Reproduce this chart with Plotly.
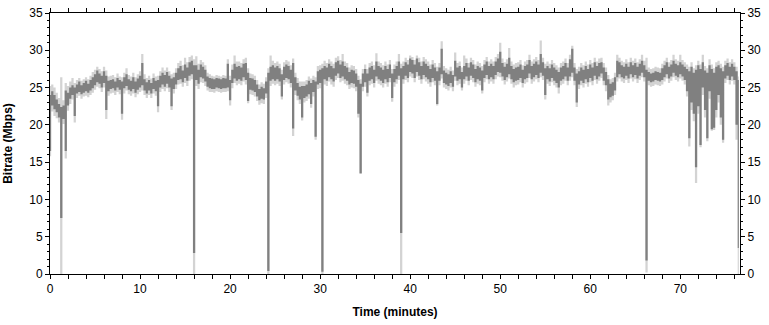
import numpy as np
import plotly.graph_objects as go

# time grid (minutes), quarter-minute samples 0 .. 76.5
minutes = np.arange(0, 76.51, 0.25)

# upper edge of the dark (typical) band, Mbps
avg_hi = [
24.0,24.5,24.0,23.4, 22.8,22.4,22.6,24.6, 24.3,25.0,25.3,25.0, 25.4,25.8,25.3,25.6,
25.9,25.5,26.0,26.4, 26.8,27.3,26.9,26.6, 27.2,26.6,25.9,26.0, 26.1,25.8,26.3,26.0,
25.8,26.4,26.8,26.1, 25.9,26.4,25.8,26.2, 26.6,28.3,26.1,25.7, 26.0,25.6,26.3,25.9,
26.0,26.6,27.0,26.7, 27.1,26.6,26.2,26.4, 27.0,27.6,27.9,27.3, 28.1,27.7,28.4,28.6,
28.0,28.0,27.4,28.1, 27.8,27.4,26.5,26.3, 26.2,26.1,26.3,26.2, 26.1,26.3,26.2,28.2,
26.0,27.4,28.2,27.8, 27.9,27.7,28.2,28.3, 27.0,26.3,26.2,26.0, 25.4,24.8,25.1,24.9,
25.8,27.0,27.8,28.0, 27.7,27.9,27.6,26.8, 27.8,28.1,27.9,27.4, 28.3,26.4,25.6,25.1,
25.2,25.2,25.4,25.9, 25.6,26.0,25.8,27.2, 27.4,27.6,27.9,27.7, 28.2,27.9,27.6,28.4,
28.6,28.1,28.5,27.9, 27.7,27.1,27.4,27.3, 26.9,26.0,25.5,26.9, 27.5,26.9,27.7,27.9,
27.4,28.5,27.9,27.7, 27.4,27.9,27.5,28.1, 26.9,27.5,27.9,28.5, 27.6,27.9,28.4,28.1,
28.9,28.7,28.1,28.9, 28.4,27.9,28.5,28.2, 27.9,27.5,28.1,27.7, 27.2,27.7,30.2,27.3,
27.0,26.8,27.2,26.7, 28.6,27.7,27.9,27.1, 27.9,28.3,27.7,28.4, 28.1,27.5,27.9,27.7,
27.3,28.1,28.5,27.9, 28.2,27.9,28.5,28.9, 29.8,28.3,27.8,28.2, 29.0,27.9,27.5,27.7,
27.8,28.1,27.4,27.9, 28.1,28.7,27.9,28.2, 28.5,28.1,29.5,28.4, 27.6,27.9,27.6,28.1,
27.7,27.4,27.1,27.7, 27.9,28.3,27.7,28.8, 30.2,27.7,26.9,27.2, 27.7,27.4,27.9,27.5,
28.1,27.7,28.4,27.9, 28.3,28.4,27.7,27.1, 26.1,25.5,25.7,26.4, 28.6,28.4,28.0,27.8,
28.2,27.8,28.4,28.0, 28.3,27.8,28.2,28.6, 28.0,27.4,27.1,26.9, 27.0,27.2,27.1,27.0,
27.6,28.0,28.4,27.8, 28.1,28.6,28.2,28.0, 28.4,28.1,27.8,27.5, 27.2,27.8,27.0,27.4,
28.0,27.5,28.4,27.3, 27.0,28.0,27.5,27.0, 27.8,28.0,27.6,27.2, 28.0,28.3,27.8,28.2,
27.8,27.2,26.0]

# lower edge of the dark band, Mbps
avg_lo = [
16.5,22.6,22.1,21.7, 21.0,7.5,20.8,16.5, 22.6,23.5,24.0,21.2, 24.2,24.4,24.1,24.3,
24.5,24.3,24.6,24.9, 25.3,25.7,25.5,25.0, 25.6,22.0,24.5,24.8, 24.9,24.6,25.0,24.7,
21.5,24.9,25.2,24.7, 24.5,24.8,24.3,24.7, 25.0,25.3,24.6,24.2, 24.6,24.2,24.8,24.5,
22.5,25.0,25.4,25.1, 25.5,25.0,22.5,24.8, 25.4,26.0,26.1,25.7, 26.3,25.9,26.6,26.8,
2.8,26.0,25.5,26.4, 26.2,25.8,25.1,24.9, 24.8,24.8,25.0,24.9, 24.8,24.9,24.9,25.0,
23.3,25.6,26.2,25.9, 26.1,25.9,26.4,26.0, 23.2,24.7,24.6,24.4, 23.8,23.3,23.5,23.4,
24.2,0.4,25.9,26.1, 25.9,26.1,25.8,23.8, 26.0,26.3,26.1,25.6, 19.5,24.6,23.9,23.4,
21.0,23.6,23.8,24.1, 22.8,24.4,18.4,25.4, 25.6,0.3,26.1,25.9, 26.4,26.1,25.8,26.6,
26.9,26.3,26.5,26.1, 25.9,25.4,25.6,25.5, 25.1,21.5,13.5,25.1, 25.7,24.3,25.9,26.1,
25.6,26.5,26.1,25.9, 25.6,26.1,25.7,26.3, 23.6,25.7,26.1,26.6, 5.5,26.1,26.6,26.3,
27.1,26.9,26.3,27.1, 26.6,26.1,26.7,26.4, 26.1,25.7,26.3,25.9, 22.8,25.9,26.8,25.6,
25.4,25.2,25.6,25.1, 26.5,25.9,26.1,25.0, 26.1,26.5,25.9,26.6, 26.3,25.7,26.1,25.9,
24.6,26.3,26.7,26.1, 26.4,26.1,26.7,27.1, 27.0,26.5,26.0,26.4, 26.8,26.1,25.7,25.9,
26.0,26.3,25.6,26.1, 26.3,26.9,26.1,26.4, 26.7,26.3,27.0,26.6, 24.0,26.1,25.8,26.3,
25.9,25.6,25.0,25.9, 26.1,26.5,25.9,26.5, 27.0,25.9,23.0,25.4, 25.9,25.6,26.1,25.7,
26.3,25.9,26.6,26.1, 26.5,26.9,25.9,25.3, 23.4,23.7,23.9,24.6, 26.4,26.8,26.4,26.2,
26.6,26.2,26.8,26.4, 26.7,26.2,26.6,27.0, 26.4,1.8,25.9,25.7, 25.8,26.0,25.9,25.8,
26.0,26.4,26.8,26.2, 26.5,27.0,26.6,26.4, 26.8,26.5,26.0,24.5, 18.2,23.0,21.5,14.3,
22.5,17.3,25.0,22.0, 18.2,24.5,19.4,19.6, 22.0,24.0,21.0,18.0, 26.2,26.6,26.0,26.5,
26.0,20.0,3.5]

# peak values (light envelope top), Mbps
peak = [
25.2,25.4,25.0,24.3, 23.6,26.4,23.3,25.6, 25.2,25.8,26.3,25.6, 26.0,26.3,25.9,26.1,
26.4,26.1,26.6,27.1, 27.4,27.8,27.5,27.2, 27.8,27.3,26.5,26.6, 26.7,26.4,26.9,26.5,
26.4,27.0,27.6,26.7, 26.5,27.0,26.4,26.8, 27.2,29.5,26.8,26.3, 26.6,26.2,26.9,26.5,
26.6,27.2,27.7,27.3, 27.7,27.2,26.8,27.0, 27.6,28.3,28.6,28.0, 29.0,28.4,29.1,29.3,
28.8,29.2,28.2,28.7, 28.4,28.0,27.0,26.8, 26.6,26.5,26.7,26.6, 26.5,26.7,26.6,28.8,
26.6,28.1,29.3,28.5, 28.5,28.3,28.8,29.0, 27.6,26.9,26.8,26.6, 26.0,25.4,25.7,25.5,
26.4,27.6,29.3,28.6, 28.3,28.5,28.2,27.4, 28.4,28.7,28.5,28.0, 28.9,27.0,26.3,25.8,
25.8,25.8,26.0,26.5, 26.2,26.6,26.4,27.9, 28.0,28.2,28.6,28.3, 28.8,28.5,28.2,29.0,
29.2,28.7,29.5,28.5, 28.3,27.7,28.0,27.9, 27.5,26.6,26.1,27.5, 28.1,27.5,28.3,28.5,
28.0,29.6,28.5,28.3, 28.0,28.5,28.1,28.7, 27.5,28.1,28.5,29.5, 28.2,28.5,29.0,28.7,
29.3,29.1,28.7,29.3, 29.0,28.5,29.1,28.8, 28.5,28.1,28.7,28.3, 27.8,28.3,31.2,27.9,
27.6,27.4,27.8,27.3, 29.7,28.3,28.5,27.7, 29.3,28.9,28.3,29.0, 28.7,28.1,28.5,28.3,
27.9,28.7,29.1,28.5, 28.8,28.5,29.1,29.5, 31.0,28.9,28.4,28.8, 30.3,28.5,28.1,28.3,
28.4,28.7,28.0,28.5, 28.7,29.4,28.5,28.8, 29.1,28.7,31.3,29.0, 28.2,28.5,28.2,28.7,
28.3,28.0,27.7,28.3, 28.5,28.9,28.3,29.4, 30.6,28.3,27.5,27.8, 28.3,28.0,28.5,28.1,
28.7,28.3,29.0,28.5, 28.9,29.0,28.3,27.7, 26.7,26.1,26.3,27.0, 29.4,29.0,28.6,28.4,
28.8,28.4,29.0,28.6, 28.9,28.4,28.8,29.4, 28.6,29.0,27.7,27.5, 27.6,27.8,27.7,27.6,
28.2,28.6,29.0,28.4, 28.7,29.4,28.8,28.6, 29.4,28.7,28.4,28.1, 27.8,28.4,27.6,28.0,
28.6,28.1,29.4,27.9, 27.6,28.8,28.1,27.6, 28.4,28.6,28.2,27.8, 28.6,28.9,28.4,28.8,
28.4,27.8,26.5]

# trough values (light envelope bottom), Mbps
trough = [
15.8,21.8,21.2,20.9, 20.3,0.0,20.1,15.5, 21.9,22.8,23.4,20.3, 23.6,23.9,23.5,23.8,
23.9,23.7,24.0,24.3, 24.7,25.1,24.9,24.4, 25.0,20.8,23.9,24.2, 24.3,24.0,24.4,24.1,
20.7,24.2,24.6,24.1, 23.9,24.2,23.7,24.1, 24.4,24.6,24.0,23.6, 24.0,23.6,24.2,23.9,
21.7,24.4,24.8,24.5, 24.9,24.4,22.0,24.2, 24.8,25.4,25.5,25.1, 25.6,25.2,25.9,26.1,
0.0,25.2,24.8,25.7, 25.6,25.2,24.6,24.4, 24.4,24.3,24.5,24.4, 24.3,24.4,24.4,24.5,
22.6,24.9,25.6,25.3, 25.5,25.3,25.8,25.4, 22.9,24.1,24.0,23.8, 23.2,22.7,22.9,22.8,
23.6,0.0,25.2,25.5, 25.3,25.5,25.2,23.4, 25.4,25.7,25.5,25.0, 18.5,24.0,23.3,22.8,
20.6,23.0,23.2,23.5, 22.3,23.8,18.0,24.8, 24.9,0.0,25.4,25.2, 25.8,25.4,25.1,26.0,
26.3,25.7,25.9,25.5, 25.3,24.8,25.0,24.9, 24.5,21.0,13.4,24.5, 25.1,23.8,25.3,25.5,
25.0,25.9,25.5,25.3, 25.0,25.5,25.1,25.7, 23.1,25.1,25.5,26.0, 0.0,25.5,26.0,25.7,
26.5,26.3,25.7,26.5, 26.0,25.5,26.1,25.8, 25.5,25.1,25.7,25.3, 22.6,25.3,26.2,25.0,
24.8,24.6,25.0,24.5, 25.9,25.3,25.5,24.6, 25.5,25.9,25.3,26.0, 25.7,25.1,25.5,25.3,
24.2,25.7,26.1,25.5, 25.8,25.5,26.1,26.5, 26.4,25.9,25.4,25.8, 26.2,25.5,25.0,25.3,
25.4,25.7,25.0,25.5, 25.7,26.3,25.5,25.8, 26.1,25.7,26.4,26.0, 23.4,25.5,25.2,25.7,
25.3,25.0,24.2,25.3, 25.5,25.9,25.3,25.9, 26.4,25.3,22.4,24.8, 25.3,25.0,25.5,25.1,
25.7,25.3,26.0,25.5, 25.9,26.3,25.3,24.5, 22.6,23.0,23.3,24.0, 25.8,26.2,25.8,25.6,
26.0,25.6,26.2,25.8, 26.1,25.6,26.0,26.4, 25.8,0.2,25.3,25.1, 25.2,25.4,25.3,25.2,
25.4,25.8,26.2,25.6, 25.9,26.4,26.0,25.8, 26.2,25.9,25.4,23.8, 17.1,22.0,20.5,12.2,
21.5,17.0,24.0,21.0, 17.8,23.5,19.2,19.3, 21.0,23.0,20.0,17.6, 25.6,26.0,25.4,25.9,
25.4,18.0,0.0]

y_ticks = [0, 5, 10, 15, 20, 25, 30, 35]
x_ticks = [0, 10, 20, 30, 40, 50, 60, 70]

LIGHT = "#d3d3d3"
DARK = "#808080"
shape = "hvh"

fig = go.Figure()
fig.add_trace(go.Scatter(x=minutes, y=trough, mode="lines", line=dict(width=0, shape=shape, color=LIGHT),
                         hoverinfo="skip", showlegend=False))
fig.add_trace(go.Scatter(x=minutes, y=peak, mode="lines", line=dict(width=0, shape=shape, color=LIGHT),
                         fill="tonexty", fillcolor=LIGHT, showlegend=False))
fig.add_trace(go.Scatter(x=minutes, y=avg_lo, mode="lines", line=dict(width=0, shape=shape, color=DARK),
                         hoverinfo="skip", showlegend=False))
fig.add_trace(go.Scatter(x=minutes, y=avg_hi, mode="lines", line=dict(width=0, shape=shape, color=DARK),
                         fill="tonexty", fillcolor=DARK, showlegend=False))
# invisible trace on right axis so it renders
fig.add_trace(go.Scatter(x=[0], y=[0], yaxis="y2", mode="markers", marker=dict(opacity=0),
                         hoverinfo="skip", showlegend=False))

font = dict(family="Liberation Sans, Arial, sans-serif", size=12, color="#000000")
axis_common = dict(showgrid=False, zeroline=False, showline=True, linecolor="#000000", linewidth=1,
                   ticks="outside", ticklen=4, tickwidth=1, tickcolor="#000000", automargin=False)

fig.update_layout(
    width=769, height=325,
    margin=dict(l=50, r=29, t=13, b=51),
    paper_bgcolor="#ffffff", plot_bgcolor="#ffffff",
    font=font,
    xaxis=dict(range=[0, 76.63], tickvals=x_ticks, mirror="allticks",
               minor=dict(dtick=2, ticklen=2, tickcolor="#000000", ticks="outside"),
               title=dict(text="<b>Time (minutes)</b>", standoff=12, font=dict(size=12)),
               **axis_common),
    yaxis=dict(range=[0, 35], tickvals=y_ticks,
               minor=dict(dtick=1, ticklen=2, tickcolor="#000000", ticks="outside"),
               title=dict(text="<b>Bitrate (Mbps)</b>", standoff=14, font=dict(size=12)),
               **axis_common),
    yaxis2=dict(range=[0, 35], tickvals=y_ticks, overlaying="y", side="right",
                minor=dict(dtick=1, ticklen=2, tickcolor="#000000", ticks="outside"),
                **axis_common),
)

# remove the default 8px page margin so the figure sits at the window's top-left corner
fig.write_html("out.html", config={"displayModeBar": False},
               post_script="document.body.style.margin='0';document.body.style.overflow='hidden';")
